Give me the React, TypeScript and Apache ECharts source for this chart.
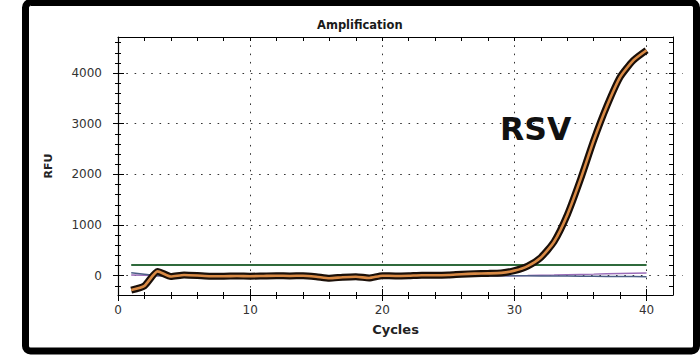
import { useEffect, useRef } from 'react';
import * as echarts from 'echarts';

// ---- data ----
const cycles = [1, 2, 3, 4, 5, 6, 7, 8, 9, 10, 11, 12, 13, 14, 15, 16, 17, 18, 19, 20,
  21, 22, 23, 24, 25, 26, 27, 28, 29, 30, 31, 32, 33, 34, 35, 36, 37, 38, 39, 40];
const rsvRfu = [-283, -200, 85, -15, 15, 5, -10, -10, -5, -10, -5, 0, -5, 0, -20, -50, -30, -20, -45, 0,
  -5, 0, 10, 10, 15, 30, 40, 45, 55, 100, 190, 360, 670, 1200, 1900, 2670, 3350, 3920, 4250, 4450];
const baselinePurple = [15, 8, 0, 0, 0, 0, 0, 0, 0, 0, 0, 0, 0, 0, 0, 0, 0, 0, 0, 0,
  0, 0, 0, 0, 0, 0, 0, 0, 0, 0, 4, 9, 14, 20, 26, 31, 37, 43, 49, 55];
const baselineBlue = [60, 30, 0, 0, 0, 0, 0, 0, 0, 0, 0, 0, 0, 0, 0, 0, 0, 0, 0, 0,
  0, 0, 0, 0, 0, 0, 0, 0, 0, 0, -2, -4, -6, -8, -10, -12, -14, -16, -18, -20];
const threshold = 212;

// axis ranges and tick steps
const X_MIN = 0;
const X_MAX = 42;
const X_TICK_MAX = 40;
const X_MAJOR = 10;
const X_MINOR = 2;
const Y_MIN = -381;
const Y_MAX = 4711;
const Y_MAJOR_MIN = 0;
const Y_MAJOR_MAX = 4000;
const Y_MAJOR = 1000;
const Y_MINOR_MIN = -200;
const Y_MINOR_MAX = 4600;
const Y_MINOR = 200;

const FONT = 'DejaVu Sans';

export default function App() {
  const ref = useRef<HTMLDivElement>(null);
  useEffect(() => {
    if (!ref.current) return;
    const chart = echarts.init(ref.current, undefined, { renderer: 'svg' });

    // main plot box
    const L = 118, T = 37, W = 555, H = 258;
    const kx = W / (X_MAX - X_MIN);
    const ky = H / (Y_MAX - Y_MIN);
    const yPx = (v: number) => T + (Y_MAX - v) * ky;

    const pts = (vals: number[]) => cycles.map((c, i) => [c, vals[i]]);
    const thresholdPts = [[cycles[0], threshold], [cycles[cycles.length - 1], threshold]];

    const hidden = { show: false };
    const noLine = { show: false, onZero: false };
    const tickStyle = { color: '#000', width: 1 };
    const gridDash = { type: [1.6, 6.7], color: '#333', width: 1 };
    const labelFmt = (v: number) => `${v}`;

    const grids = [
      { left: L, top: T, width: W, height: H },
      { left: L, top: T, width: (X_TICK_MAX - X_MIN) * kx, height: H },
      { left: L, top: yPx(Y_MAJOR_MAX), width: W + 10, height: (Y_MAJOR_MAX - Y_MAJOR_MIN) * ky },
      { left: L, top: yPx(Y_MINOR_MAX), width: W, height: (Y_MINOR_MAX - Y_MINOR_MIN) * ky },
    ].map((g) => ({ ...g, containLabel: false, outerBoundsMode: 'none' }));

    const xT = { type: 'value', min: X_MIN, max: X_TICK_MAX, gridIndex: 1, splitLine: hidden };
    const yMaj = { type: 'value', min: Y_MAJOR_MIN, max: Y_MAJOR_MAX, interval: Y_MAJOR, gridIndex: 2 };
    const yMin = { type: 'value', min: Y_MINOR_MIN, max: Y_MINOR_MAX, interval: Y_MINOR, gridIndex: 3, splitLine: hidden };

    chart.setOption({
      animation: false,
      backgroundColor: '#fff',
      title: {
        text: 'Amplification',
        left: 317,
        top: 18.5,
        padding: 0,
        textStyle: { fontFamily: FONT, fontSize: 11.5, fontWeight: 'bold', color: '#1a1a1a' },
      },
      grid: grids,
      xAxis: [
        {
          type: 'value', min: X_MIN, max: X_MAX, gridIndex: 0, position: 'bottom',
          axisLine: { show: true, onZero: false, lineStyle: { color: '#000', width: 1.2 } },
          axisTick: hidden, axisLabel: hidden, splitLine: hidden,
          name: 'Cycles', nameLocation: 'middle', nameGap: 28,
          nameTextStyle: { fontFamily: FONT, fontSize: 13, fontWeight: 'bold', color: '#222' },
        },
        {
          type: 'value', min: X_MIN, max: X_MAX, gridIndex: 0, position: 'top',
          axisLine: { show: true, onZero: false, lineStyle: { color: '#000', width: 1 } },
          axisTick: hidden, axisLabel: hidden, splitLine: hidden,
        },
        {
          ...xT, interval: X_MAJOR, position: 'bottom', axisLine: noLine,
          axisTick: { show: true, length: 6, lineStyle: tickStyle },
          axisLabel: { show: true, formatter: labelFmt, margin: 9, color: '#333', fontFamily: FONT, fontSize: 12 },
          splitLine: { show: true, lineStyle: gridDash },
        },
        {
          ...xT, interval: X_MAJOR, position: 'bottom', axisLine: noLine,
          axisTick: { show: true, inside: true, length: 6, lineStyle: tickStyle }, axisLabel: hidden,
        },
        {
          ...xT, interval: X_MINOR, position: 'bottom', axisLine: noLine,
          axisTick: { show: true, length: 4, lineStyle: tickStyle }, axisLabel: hidden,
        },
        {
          ...xT, interval: X_MINOR, position: 'bottom', axisLine: noLine,
          axisTick: { show: true, inside: true, length: 3, lineStyle: tickStyle }, axisLabel: hidden,
        },
        {
          ...xT, interval: X_MINOR, position: 'top', axisLine: noLine,
          axisTick: { show: true, inside: true, length: 4, lineStyle: tickStyle }, axisLabel: hidden,
        },
        { type: 'value', gridIndex: 2, show: false },
        { type: 'value', gridIndex: 3, show: false },
      ],
      yAxis: [
        {
          type: 'value', min: Y_MIN, max: Y_MAX, gridIndex: 0, position: 'left',
          axisLine: { show: true, onZero: false, lineStyle: { color: '#000', width: 1.2 } },
          axisTick: hidden, axisLabel: hidden, splitLine: hidden,
          name: 'RFU', nameLocation: 'middle', nameGap: 64, nameRotate: 90,
          nameTextStyle: { fontFamily: FONT, fontSize: 11, fontWeight: 'bold', color: '#222' },
        },
        {
          type: 'value', min: Y_MIN, max: Y_MAX, gridIndex: 0, position: 'right',
          axisLine: { show: true, onZero: false, lineStyle: { color: '#000', width: 1 } },
          axisTick: hidden, axisLabel: hidden, splitLine: hidden,
        },
        { type: 'value', gridIndex: 1, show: false },
        {
          ...yMaj, position: 'left', axisLine: noLine,
          axisTick: { show: true, length: 5, lineStyle: tickStyle },
          axisLabel: { show: true, formatter: labelFmt, margin: 16, color: '#333', fontFamily: FONT, fontSize: 12 },
          splitLine: { show: true, lineStyle: gridDash },
        },
        {
          ...yMaj, position: 'left', axisLine: noLine, splitLine: hidden,
          axisTick: { show: true, inside: true, length: 6, lineStyle: tickStyle }, axisLabel: hidden,
        },
        {
          ...yMin, position: 'left', axisLine: noLine,
          axisTick: { show: true, length: 3, lineStyle: tickStyle }, axisLabel: hidden,
        },
        {
          ...yMin, position: 'left', axisLine: noLine,
          axisTick: { show: true, inside: true, length: 3, lineStyle: tickStyle }, axisLabel: hidden,
        },
        {
          ...yMin, position: 'right', axisLine: noLine,
          axisTick: { show: true, inside: true, length: 4, lineStyle: tickStyle }, axisLabel: hidden,
        },
      ],
      series: [
        {
          type: 'line', name: 'threshold', data: thresholdPts, showSymbol: false, z: 2,
          xAxisIndex: 0, yAxisIndex: 0,
          lineStyle: { color: '#2f6a3c', width: 2 },
        },
        {
          type: 'line', name: 'base-purple', data: pts(baselinePurple), showSymbol: false, z: 3,
          xAxisIndex: 0, yAxisIndex: 0,
          lineStyle: { color: '#9a6cb8', width: 1.5 },
        },
        {
          type: 'line', name: 'base-blue', data: pts(baselineBlue), showSymbol: false, z: 3,
          xAxisIndex: 0, yAxisIndex: 0,
          lineStyle: { color: '#4d5f86', width: 1.5 },
        },
        {
          type: 'line', name: 'RSV-outline', data: pts(rsvRfu), showSymbol: false, z: 4, smooth: 0.2,
          xAxisIndex: 0, yAxisIndex: 0,
          lineStyle: { color: '#1a0f08', width: 7, join: 'round', cap: 'butt' },
        },
        {
          type: 'line', name: 'RSV', data: pts(rsvRfu), showSymbol: false, z: 5, smooth: 0.2,
          xAxisIndex: 0, yAxisIndex: 0,
          lineStyle: { color: '#d98a45', width: 2.6, join: 'round', cap: 'butt' },
        },
      ],
      graphic: [
        {
          type: 'text', x: 500, y: 129, z: 10,
          style: {
            text: 'RSV', fill: '#111', font: `bold 31.5px "${FONT}"`,
            textAlign: 'left', textVerticalAlign: 'middle', verticalAlign: 'middle',
          },
        },
        {
          type: 'rect', z: 10, silent: true,
          shape: { x: 25.5, y: 2.5, width: 671, height: 348.5, r: 5 },
          style: { fill: 'none', stroke: '#000', lineWidth: 7 },
        },
      ],
    });
    return () => chart.dispose();
  }, []);

  return (
    <div
      ref={ref}
      style={{ position: 'fixed', left: 0, top: 0, width: 700, height: 355, background: '#fff' }}
    />
  );
}
